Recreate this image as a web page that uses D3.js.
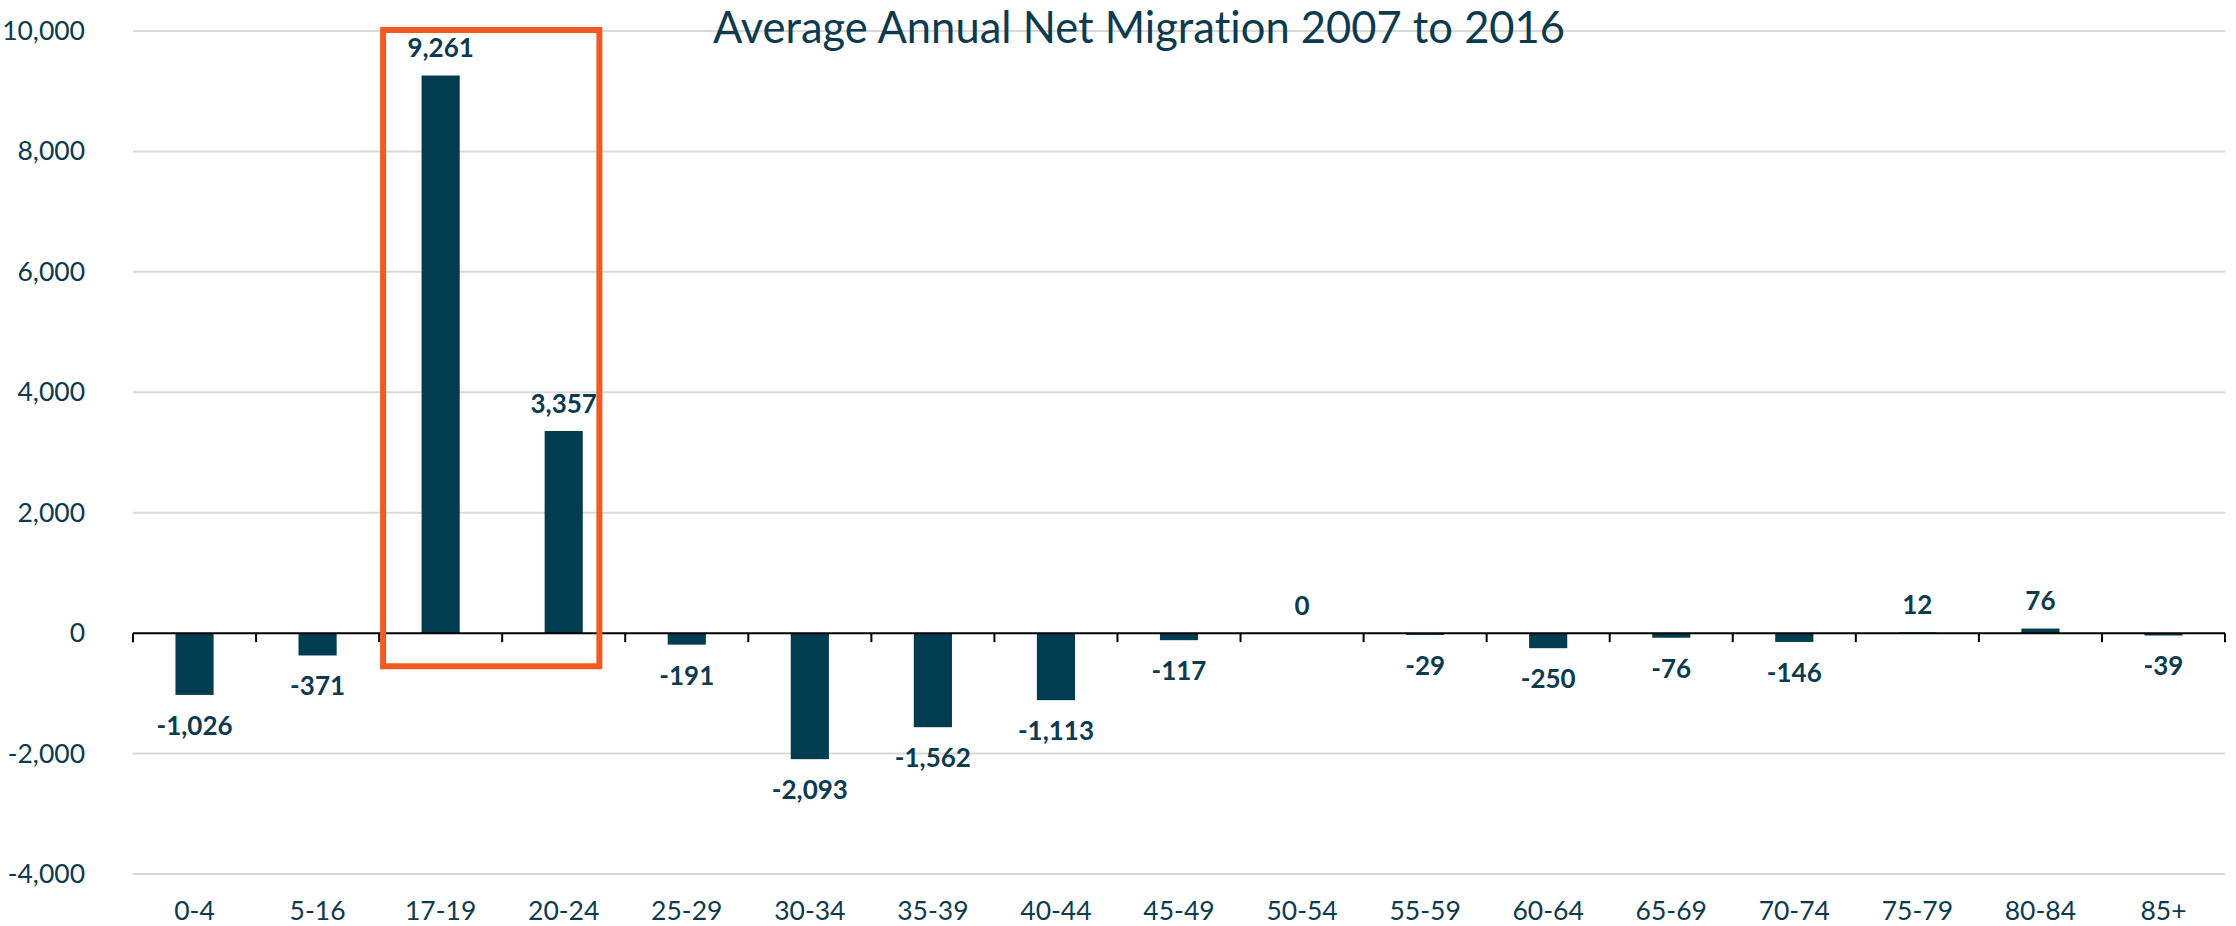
<!DOCTYPE html>
<html>
<head>
<meta charset="utf-8">
<script src="https://cdn.jsdelivr.net/npm/d3@7/dist/d3.min.js"></script>
<style>
  html, body { margin: 0; padding: 0; background: #ffffff; }
  svg { display: block; }
  text { font-family: Lato, "Noto Sans", sans-serif; font-variant-ligatures: none; font-feature-settings: "liga" 0, "clig" 0; }
</style>
</head>
<body>
<svg id="chart" width="2236" height="926"></svg>
<script>
const title = "Average Annual Net Migration 2007 to 2016";
const categories = ["0-4","5-16","17-19","20-24","25-29","30-34","35-39","40-44","45-49","50-54","55-59","60-64","65-69","70-74","75-79","80-84","85+"];
const values = [-1026,-371,9261,3357,-191,-2093,-1562,-1113,-117,0,-29,-250,-76,-146,12,76,-39];
const yTicks = [-4000,-2000,0,2000,4000,6000,8000,10000];
const highlightCats = ["17-19","20-24"];
const highlightRange = [10000,-550];

const W = 2236, H = 926;
const margin = {left: 133, right: 11, top: 31, bottom: 52};
const svg = d3.select("#chart");

const x = d3.scaleBand().domain(categories).range([margin.left, W - margin.right]).paddingInner(0).paddingOuter(0);
const y = d3.scaleLinear().domain([-4000, 10000]).range([874, 31]);

const textColor = "#0c3b50";
const barColor = "#023c50";
const locale = d3.formatLocale({decimal: ".", thousands: ",", grouping: [3], currency: ["", ""], minus: "-"});
const fmt = locale.format(",");

// gridlines
svg.append("g").selectAll("line").data(yTicks.filter(d => d !== 0)).join("line")
  .attr("x1", margin.left).attr("x2", W - margin.right)
  .attr("y1", d => y(d)).attr("y2", d => y(d))
  .attr("stroke", "#d9d9d9").attr("stroke-width", 2);

// y axis labels
const yAxis = d3.axisLeft(y).tickValues(yTicks).tickFormat(fmt).tickSize(0).tickPadding(0);
const gy = svg.append("g").attr("transform", `translate(${margin.left - 48},0)`).call(yAxis);
gy.select(".domain").remove();
gy.selectAll("text").attr("font-size", 26.5).attr("fill", textColor).attr("font-family", "Lato, sans-serif");

// bars
const bw = x.bandwidth() * 0.31;
svg.append("g").selectAll("rect").data(values).join("rect")
  .attr("x", (d, i) => x(categories[i]) + (x.bandwidth() - bw) / 2)
  .attr("width", bw)
  .attr("y", d => Math.min(y(d), y(0)))
  .attr("height", d => Math.abs(y(d) - y(0)))
  .attr("fill", barColor);

// zero axis with ticks at band edges
const gx = svg.append("g").attr("transform", `translate(0,${y(0)})`);
gx.append("line").attr("x1", margin.left).attr("x2", W - margin.right).attr("y1", 0).attr("y2", 0)
  .attr("stroke", "#000").attr("stroke-width", 2);
const edges = categories.map(c => x(c)).concat([x(categories[categories.length-1]) + x.bandwidth()]);
gx.selectAll("line.tk").data(edges).join("line").attr("class","tk")
  .attr("x1", d => d).attr("x2", d => d).attr("y1", 0).attr("y2", 9)
  .attr("stroke", "#000").attr("stroke-width", 2);

// category labels
svg.append("g").selectAll("text").data(categories).join("text")
  .attr("x", d => x(d) + x.bandwidth() / 2)
  .attr("y", 920)
  .attr("text-anchor", "middle")
  .attr("font-size", 26.5).attr("fill", textColor)
  .text(d => d);

// data labels
svg.append("g").selectAll("text").data(values).join("text")
  .attr("x", (d, i) => x(categories[i]) + x.bandwidth() / 2)
  .attr("y", d => d >= 0 ? y(d) - 18.5 : y(d) + 40)
  .attr("text-anchor", "middle")
  .attr("font-size", 26).attr("font-weight", "bold").attr("fill", textColor)
  .text(d => fmt(d));

// highlight box
const hx0 = x(highlightCats[0]) + 4;
const hx1 = x(highlightCats[1]) + x.bandwidth() * 0.79;
svg.append("rect")
  .attr("x", hx0).attr("y", y(highlightRange[0]) - 1)
  .attr("width", hx1 - hx0).attr("height", y(highlightRange[1]) - y(highlightRange[0]) + 1)
  .attr("fill", "none").attr("stroke", "#f25a24").attr("stroke-width", 6);

// title
svg.append("text").attr("x", 1139).attr("y", 43).attr("text-anchor", "middle")
  .attr("font-size", 43.5).attr("fill", textColor).text(title);
</script>
</body>
</html>
